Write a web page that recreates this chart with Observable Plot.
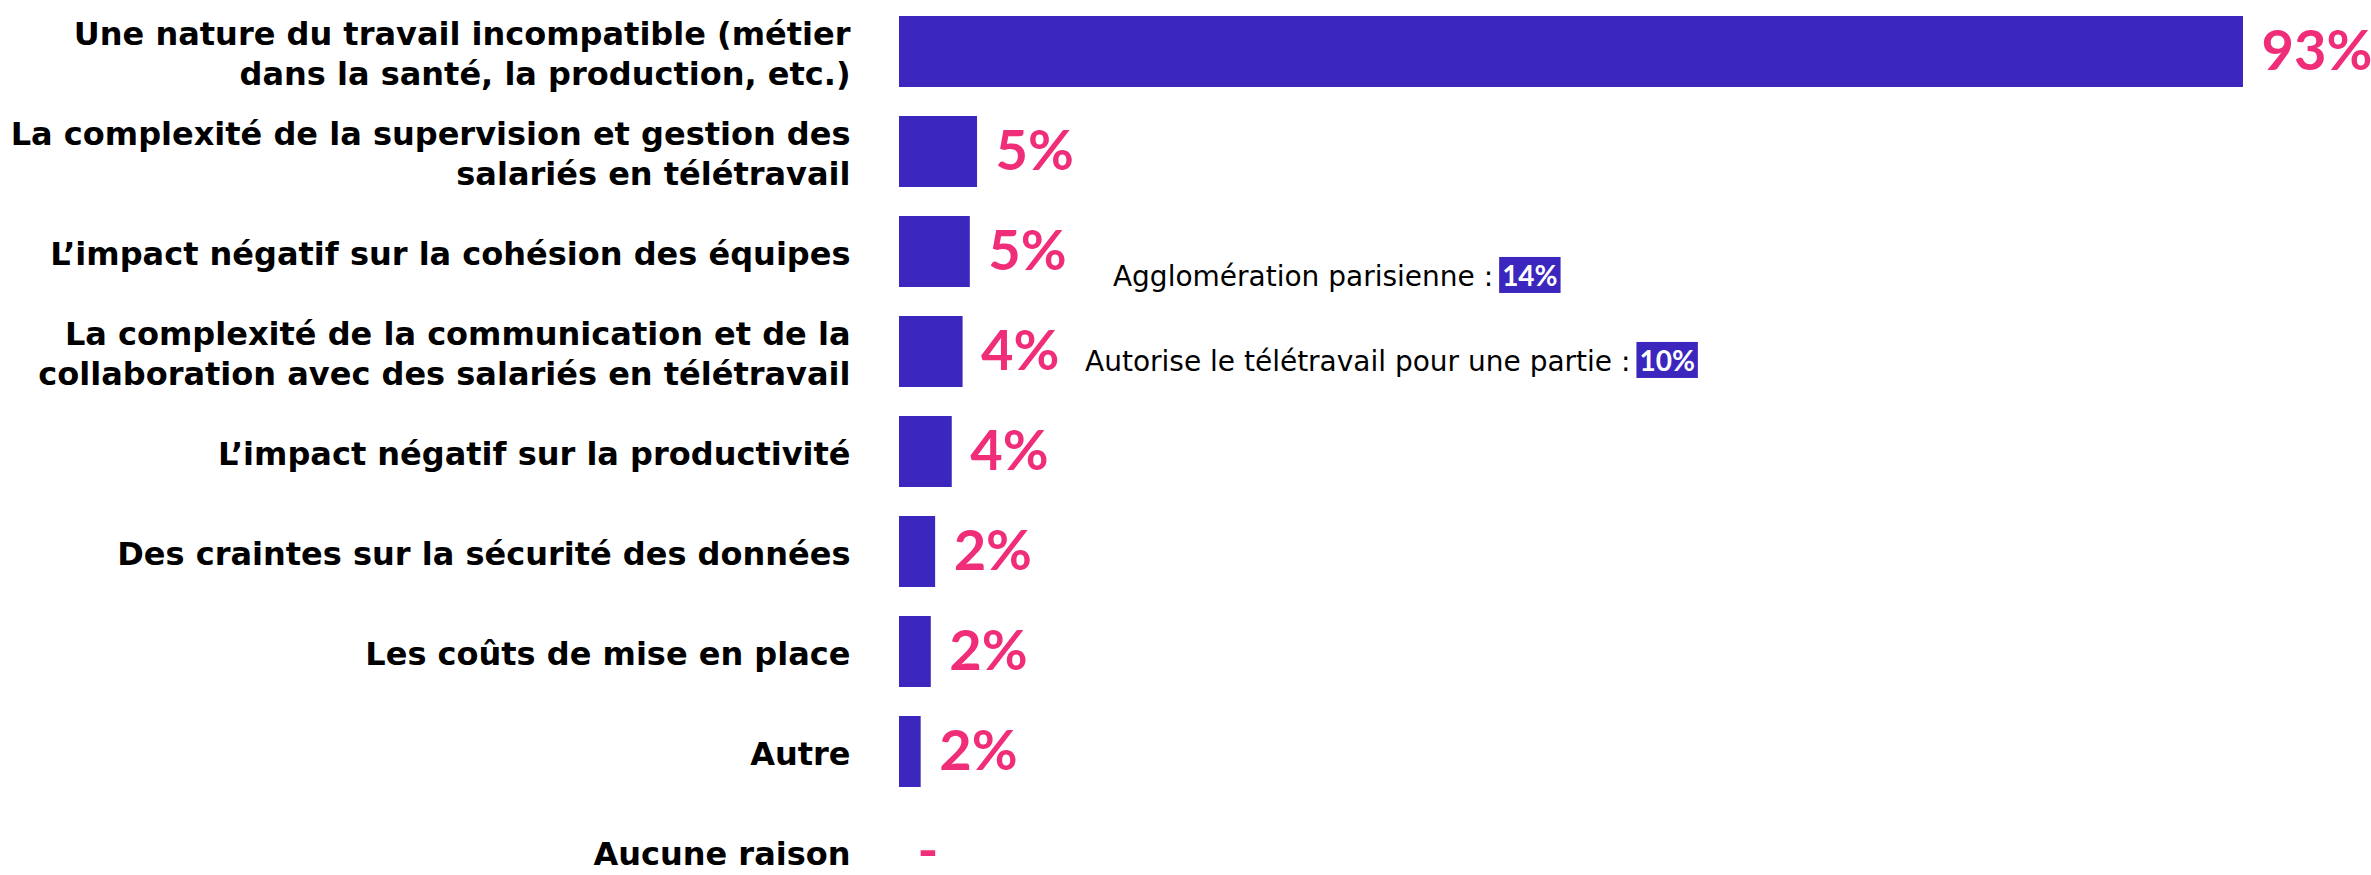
<!DOCTYPE html>
<html><head><meta charset="utf-8">
<script src="https://cdn.jsdelivr.net/npm/d3@7"></script>
<script src="https://cdn.jsdelivr.net/npm/@observablehq/plot@0.6"></script>
<style>
html,body{margin:0;padding:0;background:#fff;}
</style></head><body><div id="chart"></div>
<script>
const categories = [
  "Une nature du travail incompatible (métier\ndans la santé, la production, etc.)",
  "La complexité de la supervision et gestion des\nsalariés en télétravail",
  "L’impact négatif sur la cohésion des équipes",
  "La complexité de la communication et de la\ncollaboration avec des salariés en télétravail",
  "L’impact négatif sur la productivité",
  "Des craintes sur la sécurité des données",
  "Les coûts de mise en place",
  "Autre",
  "Aucune raison"
];
const values = [93, 5.4, 4.9, 4.4, 3.65, 2.5, 2.2, 1.5, 0];
const valueLabels = ["93%", "5%", "5%", "4%", "4%", "2%", "2%", "2%", "-"];
const annotationLabels = ["Agglomération parisienne :", "Autorise le télétravail pour une partie :"];
const annotationValues = ["14%", "10%"];
const annotationRows = [categories[2], categories[3]];

const BAR = "#3b27bd";
const PINK = "#f02d78";

const rows = categories.map((c, i) => ({cat: c, value: values[i], label: valueLabels[i]}));
const annots = annotationLabels.map((l, i) => ({label: l, value: annotationValues[i], row: annotationRows[i]}));

const chart = Plot.plot({
  width: 2371,
  height: 875,
  marginLeft: 899,
  marginRight: 128,
  marginTop: 0,
  marginBottom: 0,
  style: {fontFamily: "DejaVu Sans", background: "white", color: "black"},
  x: {domain: [0, 93], axis: null},
  y: {domain: categories, range: [12, 891], paddingInner: 0.29, paddingOuter: 0, axis: null},
  marks: [
    Plot.barX(rows, {x: "value", y: "cat", fill: BAR}),
    Plot.text(rows, {y: "cat", frameAnchor: "left", textAnchor: "end", dx: -49, text: "cat",
      fontSize: 32, fontWeight: "bold", fill: "black", lineHeight: 1.27, fontFamily: "DejaVu Sans"}),
    Plot.text(rows, {x: "value", y: "cat", text: "label", textAnchor: "start", dx: 18,
      fill: PINK, fontSize: 56, fontWeight: 700, fontFamily: "Lato"}),
    Plot.text(annots, {x: (d, i) => [41.7, 51.2][i], y: "row", text: "label", textAnchor: "end", dx: -9,
      fill: "black", fontSize: 28, fontFamily: "DejaVu Sans", fontWeight: 400}),
    Plot.text(annots, {x: (d, i) => [41.7, 51.2][i], y: "row", text: "value", textAnchor: "start",
      fill: "white", fontSize: 28, fontFamily: "Lato", fontWeight: 700})
  ]
});
document.getElementById("chart").appendChild(chart);

// vertical offsets of the two annotations and boxes behind their highlighted values
const shifts = [25, 10];
const svg = d3.select(chart);
svg.selectAll("text").each(function() {
  const t = this.textContent;
  let i = annotationLabels.indexOf(t);
  if (i < 0) i = annotationValues.indexOf(t);
  if (i < 0) return;
  const tr = this.getAttribute("transform") || "";
  this.setAttribute("transform", tr + ` translate(0,${shifts[i]})`);
});
svg.selectAll("text").filter(function() { return annotationValues.includes(this.textContent); }).each(function() {
  const b = this.getBBox();
  const tr = this.getAttribute("transform") || "";
  d3.select(this.parentNode).insert("rect", () => this)
    .attr("x", b.x - 3).attr("y", b.y + b.height / 2 - 18)
    .attr("width", b.width + 6).attr("height", 36)
    .attr("transform", tr)
    .attr("fill", BAR);
});
</script>
</body></html>
